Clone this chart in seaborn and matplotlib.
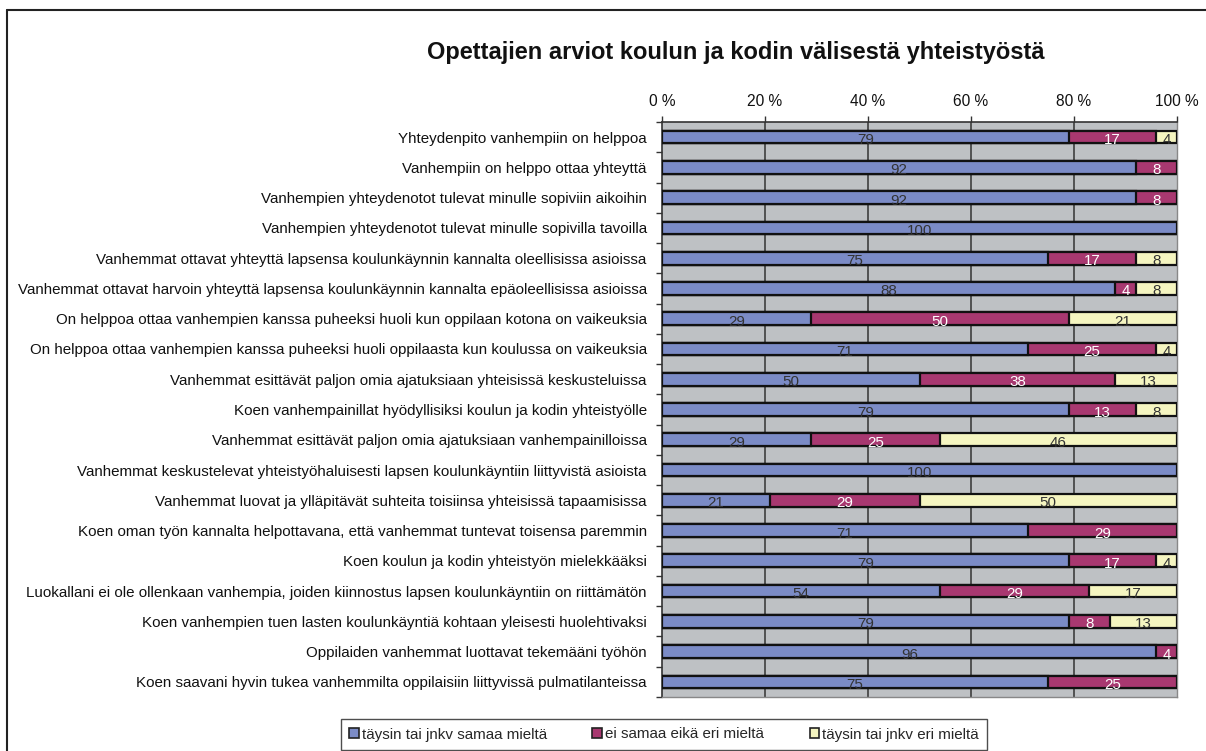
import numpy as np
import pandas as pd
import matplotlib
matplotlib.use("Agg")
import matplotlib.pyplot as plt
import seaborn as sns
from matplotlib.patches import Patch
from matplotlib.lines import Line2D

sns.set_theme(style="white")
plt.rcParams['font.family'] = ['Liberation Sans', 'DejaVu Sans']

title = "Opettajien arviot koulun ja kodin välisestä yhteistyöstä"

categories = [
    "Yhteydenpito vanhempiin on helppoa",
    "Vanhempiin on helppo ottaa yhteyttä",
    "Vanhempien yhteydenotot tulevat minulle sopiviin aikoihin",
    "Vanhempien yhteydenotot tulevat minulle sopivilla tavoilla",
    "Vanhemmat ottavat yhteyttä lapsensa koulunkäynnin kannalta oleellisissa asioissa",
    "Vanhemmat ottavat harvoin yhteyttä lapsensa koulunkäynnin kannalta epäoleellisissa asioissa",
    "On helppoa ottaa vanhempien kanssa puheeksi huoli kun oppilaan kotona on vaikeuksia",
    "On helppoa ottaa vanhempien kanssa puheeksi huoli oppilaasta kun koulussa on vaikeuksia",
    "Vanhemmat esittävät paljon omia ajatuksiaan yhteisissä keskusteluissa",
    "Koen vanhempainillat hyödyllisiksi koulun ja kodin yhteistyölle",
    "Vanhemmat esittävät paljon omia ajatuksiaan vanhempainilloissa",
    "Vanhemmat keskustelevat yhteistyöhaluisesti lapsen koulunkäyntiin liittyvistä asioista",
    "Vanhemmat luovat ja ylläpitävät suhteita toisiinsa yhteisissä tapaamisissa",
    "Koen oman työn kannalta helpottavana, että vanhemmat tuntevat toisensa paremmin",
    "Koen koulun ja kodin yhteistyön mielekkääksi",
    "Luokallani ei ole ollenkaan vanhempia, joiden kiinnostus lapsen koulunkäyntiin on riittämätön",
    "Koen vanhempien tuen lasten koulunkäyntiä kohtaan yleisesti huolehtivaksi",
    "Oppilaiden vanhemmat luottavat tekemääni työhön",
    "Koen saavani hyvin tukea vanhemmilta oppilaisiin liittyvissä pulmatilanteissa",
]

agree =    [79, 92, 92, 100, 75, 88, 29, 71, 50, 79, 29, 100, 21, 71, 79, 54, 79, 96, 75]
neutral =  [17,  8,  8,   0, 17,  4, 50, 25, 38, 13, 25,   0, 29, 29, 17, 29,  8,  4, 25]
disagree = [ 4,  0,  0,   0,  8,  8, 21,  4, 13,  8, 46,   0, 50,  0,  4, 17, 13,  0,  0]

series_names = ["täysin tai jnkv samaa mieltä", "ei samaa eikä eri mieltä", "täysin tai jnkv eri mieltä"]
xtick_values = [0, 20, 40, 60, 80, 100]
xtick_labels = ["0 %", "20 %", "40 %", "60 %", "80 %", "100 %"]

c_blue = "#7B8BC6"
c_mag = "#A83870"
c_yel = "#F5F5C0"
c_bg = "#BEC1C4"

df = pd.DataFrame({"cat": categories, "a": agree, "n": neutral, "d": disagree})
df["c1"] = df["a"]
df["c2"] = df["a"] + df["n"]
df["c3"] = df["a"] + df["n"] + df["d"]

fig = plt.figure(figsize=(12.06, 7.51), dpi=100)
ax = fig.add_axes([662/1206, 1-697/751, (1177-662)/1206, (697-122)/751])
ax.set_facecolor(c_bg)

bar_h = 0.42
edge_kw = dict(edgecolor="#111111", linewidth=1.6)
for col, colr in [("c3", c_yel), ("c2", c_mag), ("c1", c_blue)]:
    sns.barplot(data=df, x=col, y="cat", order=categories, orient="h", color=colr,
                width=bar_h, saturation=1, ax=ax, zorder=3, **edge_kw)
for p in ax.patches:
    if p.get_width() <= 0:
        p.set_visible(False)

for v in [20, 40, 60, 80]:
    ax.axvline(v, color="#333333", lw=1.1, zorder=1)

ax.set_xlim(0, 100)
ax.set_ylim(len(categories) - 0.5, -0.5)
ax.set_xlabel("")
ax.set_ylabel("")

fs = 10.9
for i, row in df.iterrows():
    segs = [(0, row["a"], "#333333"), (row["a"], row["n"], "white"), (row["a"] + row["n"], row["d"], "#333333")]
    for start, w, tc in segs:
        if w > 0:
            ax.text(start + w / 2, i + 0.1, f"{w:g}", ha="center", va="center",
                    fontsize=fs, color=tc, zorder=5)

ax.xaxis.tick_top()
ax.set_xticks(xtick_values)
ax.set_xticklabels(xtick_labels, fontsize=fs + 0.3, color="#111111")
ax.tick_params(axis="x", which="major", direction="out", length=4, width=1, color="#333333", pad=5, top=True, bottom=False)
ax.set_yticks(range(len(categories)))
ax.set_yticklabels(categories, fontsize=fs, color="#111111")
ax.tick_params(axis="y", which="major", length=0, pad=11)
ax.set_yticks(np.arange(-0.5, len(categories), 1.0), minor=True)
ax.tick_params(axis="y", which="minor", direction="out", length=4, width=1, color="#333333", left=True)

for s in ["top", "left"]:
    ax.spines[s].set_visible(True)
    ax.spines[s].set_color("#333333")
    ax.spines[s].set_linewidth(1.2)
for s in ["right", "bottom"]:
    ax.spines[s].set_visible(True)
    ax.spines[s].set_color("#888888")
    ax.spines[s].set_linewidth(1.0)

fig.text(736/1206, 1 - 53/751, title, ha="center", va="center", fontsize=17, fontweight="bold", color="#111111")

handles = [Patch(facecolor=c, edgecolor="#222222", linewidth=1.2) for c in [c_blue, c_mag, c_yel]]
leg = fig.legend(handles, series_names, loc="center", bbox_to_anchor=(664/1206, 1 - 734.5/751),
                 ncol=3, frameon=True, fontsize=fs, handlelength=0.65, handleheight=0.65,
                 handletextpad=0.2, columnspacing=3.0, borderpad=0.55, borderaxespad=0.0,
                 fancybox=False)
leg.get_frame().set_edgecolor("#222222")
leg.get_frame().set_linewidth(1.0)

fig.add_artist(Line2D([7/1206, 7/1206], [0, 1 - 10/751], transform=fig.transFigure, color="#222222", lw=1.5))
fig.add_artist(Line2D([7/1206, 1], [1 - 10/751, 1 - 10/751], transform=fig.transFigure, color="#222222", lw=1.5))

fig.savefig("out.png", dpi=100, facecolor="white")
